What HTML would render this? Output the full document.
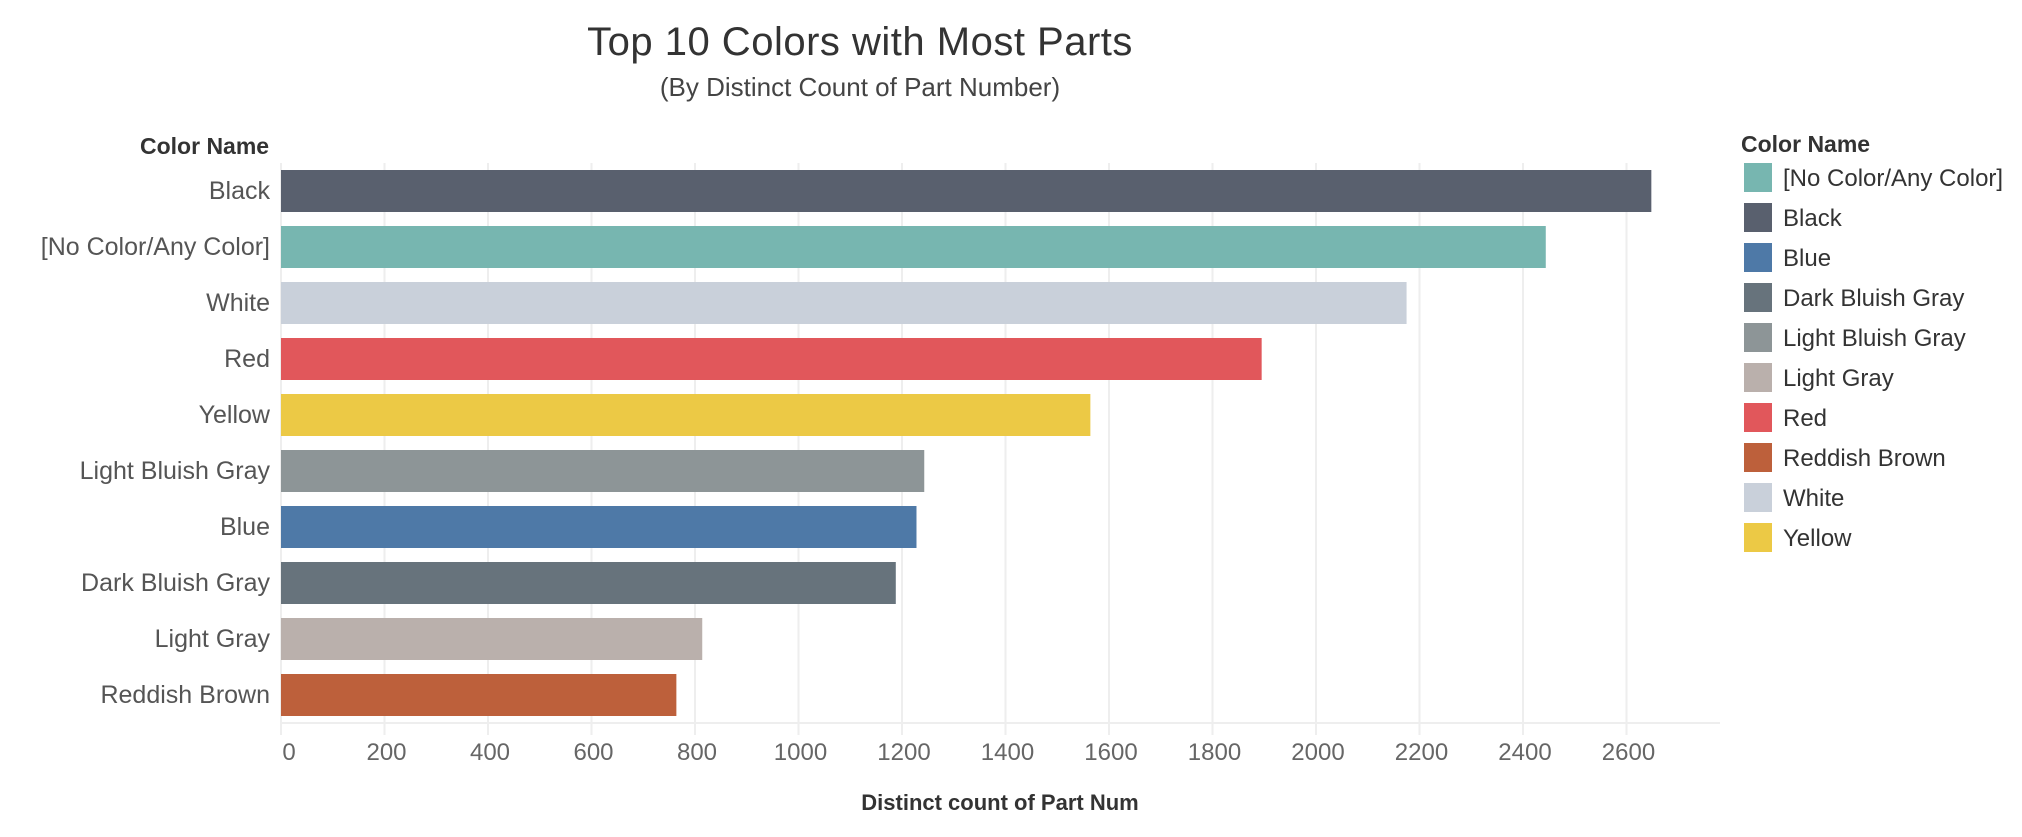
<!DOCTYPE html>
<html><head><meta charset="utf-8"><style>
body{margin:0;background:#fff;width:2022px;height:832px;overflow:hidden;font-family:"Liberation Sans",sans-serif;}
</style></head><body>
<svg id="chart" width="2022" height="832" xmlns="http://www.w3.org/2000/svg"></svg>
<script>
const categories=["Black","[No Color/Any Color]","White","Red","Yellow","Light Bluish Gray","Blue","Dark Bluish Gray","Light Gray","Reddish Brown"];
const values=[2648,2444,2175,1895,1564,1243,1228,1188,814,764];
const barColors=["#59606e","#77b6b0","#c9d0da","#e1575b","#ecc945","#8d9597","#4e79a7","#67737c","#bab0ac","#bd603b"];
const ticks=[0,200,400,600,800,1000,1200,1400,1600,1800,2000,2200,2400,2600];
const legendNames=["[No Color/Any Color]","Black","Blue","Dark Bluish Gray","Light Bluish Gray","Light Gray","Red","Reddish Brown","White","Yellow"];
const legendColors=["#77b6b0","#59606e","#4e79a7","#67737c","#8d9597","#bab0ac","#e1575b","#bd603b","#c9d0da","#ecc945"];

const svg=document.getElementById('chart');
const NS="http://www.w3.org/2000/svg";
const x0=281, pxPer=0.5175, plotRight=1720, plotTop=163, axisY=723;
const x=v=>x0+v*pxPer;
const rowH=(axisY-plotTop)/categories.length;
const y=i=>plotTop+i*rowH;
function mk(tag,attrs,text){const e=document.createElementNS(NS,tag);for(const k in attrs)e.setAttribute(k,attrs[k]);if(text!==undefined)e.textContent=text;svg.appendChild(e);return e;}

let t=mk('text',{x:860,y:55,'text-anchor':'middle','font-size':40,fill:'#333','letter-spacing':'0.5'},'Top 10 Colors with Most Parts');


t=mk('text',{x:860,y:96,'text-anchor':'middle','font-size':26,fill:'#444'},'(By Distinct Count of Part Number)');


t=mk('text',{x:140,y:154,'font-size':23,'font-weight':'bold',fill:'#333'},'Color Name');



ticks.forEach(v=>{
  let g=mk('line',{x1:x(v),x2:x(v),y1:plotTop,y2:axisY+12,stroke:'#eeeeee','stroke-width':2});
  
  
  let tl=mk('text',{x:x(v)+(v===0?8:2),y:760,'text-anchor':'middle','font-size':24,fill:'#666'},String(v));
  
  
});
let ax=mk('line',{x1:x0,x2:plotRight,y1:axisY,y2:axisY,stroke:'#eeeeee','stroke-width':2});



categories.forEach((c,i)=>{
  const bh=42, by=y(i)+(rowH-bh)/2;
  let r=mk('rect',{x:x0,y:by,width:x(values[i])-x0,height:bh,fill:barColors[i]});
  
  
  let l=mk('text',{x:270,y:by+bh/2+8,'text-anchor':'end','font-size':25,fill:'#555'},c);
  
  
});

t=mk('text',{x:1000,y:810,'text-anchor':'middle','font-size':22,'font-weight':'bold',fill:'#333'},'Distinct count of Part Num');



t=mk('text',{x:1741,y:152,'font-size':23,'font-weight':'bold',fill:'#333'},'Color Name');


legendNames.forEach((n,i)=>{
  const ly=163+i*40;
  let s=mk('rect',{x:1744,y:ly,width:28,height:29,fill:legendColors[i]});
  
  
  let lt=mk('text',{x:1783,y:ly+23,'font-size':24,fill:'#333'},n);
  
  
});
</script>
</body></html>
